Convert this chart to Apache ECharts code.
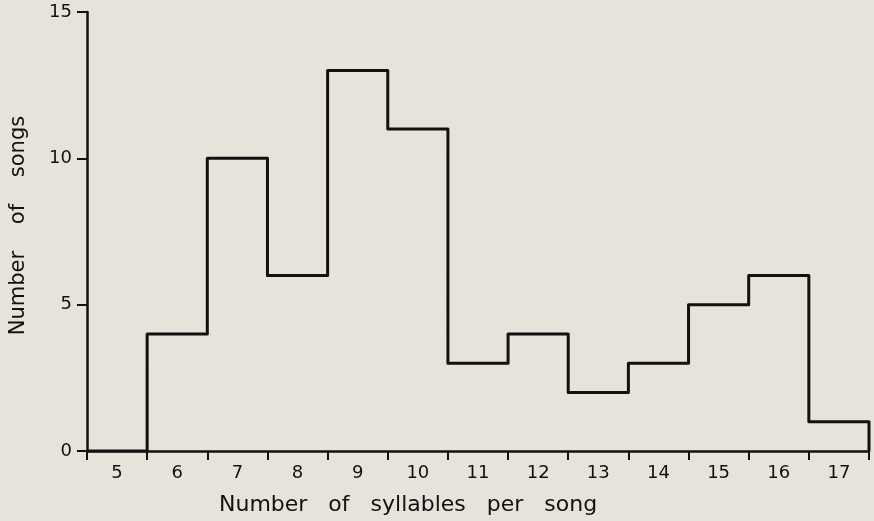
<!DOCTYPE html>
<html>
<head>
<meta charset="utf-8">
<script src="https://cdn.jsdelivr.net/npm/echarts@6/dist/echarts.min.js"></script>
<style>
  html, body { margin: 0; padding: 0; background: #e7e3db; }
  #chart { width: 874px; height: 521px; }
</style>
</head>
<body>
<div id="chart"></div>
<script>
// Data
const syllableCategories = ['5', '6', '7', '8', '9', '10', '11', '12', '13', '14', '15', '16', '17'];
const songCounts = [0, 4, 10, 6, 13, 11, 3, 4, 2, 3, 5, 6, 1];
const yTickValues = [0, 5, 10, 15];

// Build step points: each bin starts at its left edge (category - 0.5)
const stepData = syllableCategories.map((c, i) => [Number(c) - 0.5, songCounts[i]]);
stepData.push([Number(syllableCategories[syllableCategories.length - 1]) + 0.5, 0]);

const FONT = 'DejaVu Sans';
const INK = '#111111';

const chart = echarts.init(document.getElementById('chart'), null, { renderer: 'canvas' });
chart.setOption({
  backgroundColor: '#e7e3db',
  animation: false,
  grid: { left: 86, right: 5, top: 12, bottom: 70 },
  title: {
    text: 'Number   of   syllables   per   song',
    left: 214, top: 489,
    textStyle: { fontFamily: FONT, fontSize: 22, fontWeight: 'normal', color: INK }
  },
  xAxis: [
    {
      type: 'category',
      data: syllableCategories,
      boundaryGap: true,
      axisLine: { lineStyle: { color: INK, width: 2.5 } },
      axisTick: { show: true, length: 9, lineStyle: { color: INK, width: 2 } },
      axisLabel: { color: INK, fontFamily: FONT, fontSize: 18, margin: 13 },
      splitLine: { show: false }
    },
    {
      type: 'value',
      min: 4.5, max: 17.5,
      show: false,
      position: 'bottom'
    }
  ],
  yAxis: {
    type: 'value',
    min: 0, max: 15, interval: 5,
    name: 'Number    of    songs',
    nameLocation: 'middle',
    nameGap: 58,
    nameTextStyle: { color: INK, fontFamily: FONT, fontSize: 21, padding: [0, 0, 0, 12] },
    axisLine: { show: true, lineStyle: { color: INK, width: 2.5 } },
    axisTick: { show: true, length: 10, lineStyle: { color: INK, width: 2 } },
    axisLabel: {
      color: INK, fontFamily: FONT, fontSize: 18, margin: 15,
      formatter: v => (yTickValues.indexOf(v) >= 0 ? String(v) : '')
    },
    splitLine: { show: false }
  },
  series: [{
    type: 'line',
    xAxisIndex: 1,
    data: stepData,
    step: 'end',
    symbol: 'none',
    lineStyle: { color: INK, width: 3, join: 'round' },
    silent: true
  }]
});
</script>
</body>
</html>
